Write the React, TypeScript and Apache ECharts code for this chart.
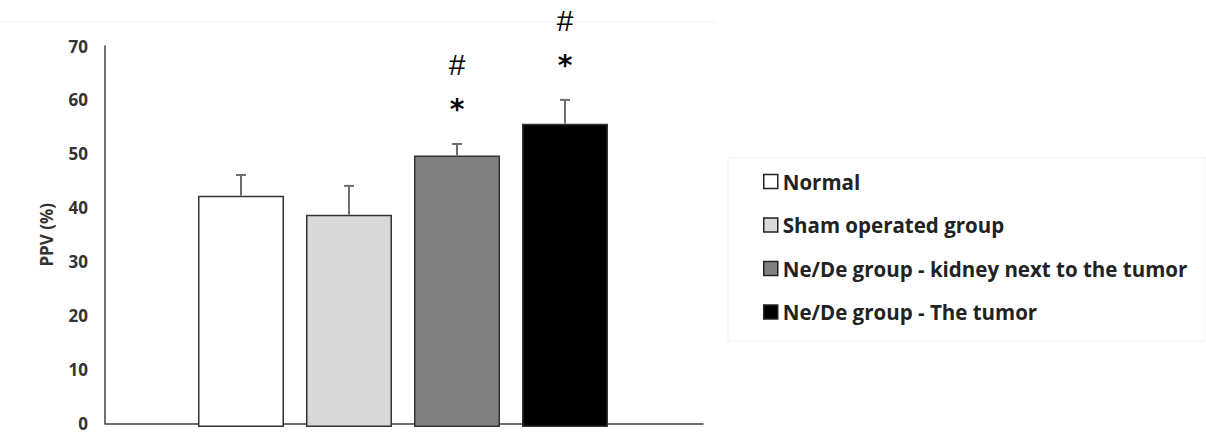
import React, { useEffect, useRef } from "react";
import * as echarts from "echarts";

const groups = [
  "Normal",
  "Sham operated group",
  "Ne/De group - kidney next to the tumor",
  "Ne/De group - The tumor",
];
const ppvMean = [42.5, 39.0, 49.9, 55.7];
const ppvError = [3.8, 5.3, 2.1, 4.4];
const starMarks = ["", "", "*", "*"];
const hashMarks = ["", "", "#", "#"];
const barColors = ["#ffffff", "#d9d9d9", "#808080", "#000000"];
const yTicks = [0, 10, 20, 30, 40, 50, 60, 70];

const FONT = "Open Sans";

export default function App() {
  const ref = useRef<HTMLDivElement>(null);

  useEffect(() => {
    if (!ref.current) return;
    const chart = echarts.init(ref.current, undefined, { renderer: "svg" });

    const barSeries = groups.map((name, i) => ({
      name,
      type: "bar",
      xAxisIndex: 1,
      yAxisIndex: 1,
      barWidth: 86,
      barGap: "-100%",
      data: groups.map((_, j) => (j === i ? ppvMean[i] : "-")),
      itemStyle: {
        color: barColors[i],
        borderColor: "#333333",
        borderWidth: 1.5,
      },
      z: 2,
    }));

    const errorData = groups.map((_, i) => [i, ppvMean[i], ppvError[i]]);

    const option: any = {
      animation: false,
      backgroundColor: "#ffffff",
      textStyle: { fontFamily: FONT },
      grid: [
        { left: 105, right: 503, top: 46, bottom: 5 },
        { left: 187, width: 432, top: 46, bottom: 5 },
      ],
      xAxis: [
        {
          type: "category",
          gridIndex: 0,
          data: [""],
          axisLine: { lineStyle: { color: "#404040", width: 1.5 } },
          axisTick: { show: false },
          axisLabel: { show: false },
        },
        {
          type: "category",
          gridIndex: 1,
          data: groups,
          show: false,
        },
      ],
      yAxis: [
        {
          type: "value",
          gridIndex: 0,
          min: 0,
          max: 70,
          interval: 10,
          name: "PPV (%)",
          nameLocation: "middle",
          nameGap: 50,
          nameTextStyle: {
            fontFamily: FONT,
            fontWeight: "bold",
            fontSize: 17,
            color: "#333333",
          },
          axisLine: { show: true, lineStyle: { color: "#404040", width: 1.5 } },
          axisTick: { show: false },
          splitLine: { show: false },
          axisLabel: {
            margin: 17,
            fontFamily: FONT,
            fontWeight: "bold",
            fontSize: 17,
            color: "#333333",
            formatter: (v: number) => (yTicks.includes(v) ? String(v) : ""),
          },
        },
        {
          type: "value",
          gridIndex: 1,
          min: 0,
          max: 70,
          interval: 10,
          show: false,
        },
      ],
      legend: {
        orient: "vertical",
        left: 758,
        top: 166,
        itemWidth: 14,
        itemHeight: 14,
        itemGap: 22.5,
        icon: "rect",
        data: groups.map((name, i) => ({
          name,
          itemStyle: { color: barColors[i], borderColor: "#222222", borderWidth: 1.5 },
        })),
        textStyle: {
          fontFamily: FONT,
          fontWeight: "bold",
          fontSize: 20.5,
          color: "#222222",
        },
        selectedMode: false,
      },
      graphic: [
        {
          type: "rect",
          shape: { x: 728, y: 158, width: 478, height: 183 },
          style: { fill: "none", stroke: "#f0f0f0", lineWidth: 1 },
          z: -1,
        },
        {
          type: "line",
          shape: { x1: 0, y1: 22, x2: 717, y2: 22 },
          style: { stroke: "#f2f2f2", lineWidth: 1 },
          z: -1,
        },
      ],
      series: [
        ...barSeries,
        {
          type: "custom",
          xAxisIndex: 1,
          yAxisIndex: 1,
          data: errorData,
          z: 3,
          renderItem: (params: any, api: any) => {
            const i = api.value(0);
            const mean = api.value(1);
            const err = api.value(2);
            const base = api.coord([i, mean]);
            const top = api.coord([i, mean + err]);
            const children: any[] = [
              {
                type: "line",
                shape: { x1: base[0], y1: base[1], x2: top[0], y2: top[1] },
                style: { stroke: "#6e6e6e", lineWidth: 2 },
              },
              {
                type: "line",
                shape: { x1: top[0] - 5, y1: top[1], x2: top[0] + 5, y2: top[1] },
                style: { stroke: "#6e6e6e", lineWidth: 2 },
              },
            ];
            if (starMarks[i]) {
              children.push({
                type: "text",
                style: {
                  text: starMarks[i],
                  x: top[0],
                  y: top[1] - 34,
                  align: "center",
                  verticalAlign: "middle",
                  font: "bold 28px 'DejaVu Sans'",
                  fill: "#000000",
                },
              });
            }
            if (hashMarks[i]) {
              children.push({
                type: "text",
                style: {
                  text: hashMarks[i],
                  x: top[0],
                  y: top[1] - 79,
                  align: "center",
                  verticalAlign: "middle",
                  font: "30px 'Liberation Sans'",
                  fill: "#000000",
                },
              });
            }
            return { type: "group", children };
          },
        },
      ],
    };

    chart.setOption(option);
    return () => chart.dispose();
  }, []);

  return (
    <div
      ref={ref}
      style={{ position: "fixed", left: 0, top: 0, width: 1206, height: 432 }}
    />
  );
}
